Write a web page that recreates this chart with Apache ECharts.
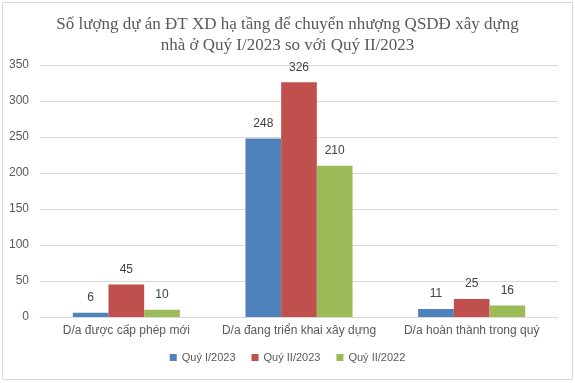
<!DOCTYPE html>
<html><head><meta charset="utf-8">
<script src="https://cdn.jsdelivr.net/npm/echarts@6/dist/echarts.min.js"></script>
<style>html,body{margin:0;padding:0;background:#fff}#c{width:575px;height:383px}</style>
</head><body><div id="c"></div>
<script>
var categories = ['D/a được cấp phép mới', 'D/a đang triển khai xây dựng', 'D/a hoàn thành trong quý'];
var seriesNames = ['Quý I/2023', 'Quý II/2023', 'Quý II/2022'];
var q1_2023 = [6, 248, 11];
var q2_2023 = [45, 326, 25];
var q2_2022 = [10, 210, 16];
var colors = ['#4F81BD', '#C0504D', '#9BBB59'];
var values = [q1_2023, q2_2023, q2_2022];

var chart = echarts.init(document.getElementById('c'), null, {renderer: 'canvas'});
chart.setOption({
  animation: false,
  title: {
    text: 'Số lượng dự án ĐT XD hạ tầng để chuyển nhượng QSDĐ xây dựng\nnhà ở Quý I/2023 so với Quý II/2023',
    left: 'center', top: 9,
    textStyle: {fontFamily: 'Liberation Serif', fontSize: 17, fontWeight: 'normal', color: '#595959', lineHeight: 21}
  },
  graphic: [{type: 'rect', shape: {x: 2.5, y: 2.5, width: 570, height: 377}, style: {fill: 'none', stroke: '#d9d9d9', lineWidth: 1}, silent: true}],
  legend: {
    bottom: 15, left: 'center', itemWidth: 7, itemHeight: 7, itemGap: 16,
    icon: 'rect',
    textStyle: {fontFamily: 'Liberation Sans', fontSize: 11, color: '#595959'},
    data: seriesNames
  },
  grid: {left: 40, right: 17, top: 65, bottom: 66},
  xAxis: {
    type: 'category', data: categories,
    axisLine: {lineStyle: {color: '#d9d9d9'}},
    axisTick: {show: false},
    axisLabel: {interval: 0, fontFamily: 'Liberation Sans', fontSize: 12, color: '#595959', margin: 8}
  },
  yAxis: {
    type: 'value', min: 0, max: 350, interval: 50,
    axisLine: {show: false}, axisTick: {show: false},
    splitLine: {lineStyle: {color: '#d9d9d9'}},
    axisLabel: {fontFamily: 'Liberation Sans', fontSize: 12, color: '#595959', margin: 11}
  },
  series: seriesNames.map(function (n, i) {
    return {
      name: n, type: 'bar', data: values[i], barGap: '0%', barCategoryGap: '38%',
      itemStyle: {color: colors[i]},
      label: {show: true, position: 'top', distance: 9, fontFamily: 'Liberation Sans', fontSize: 12, color: '#404040'}
    };
  })
});
</script></body></html>
